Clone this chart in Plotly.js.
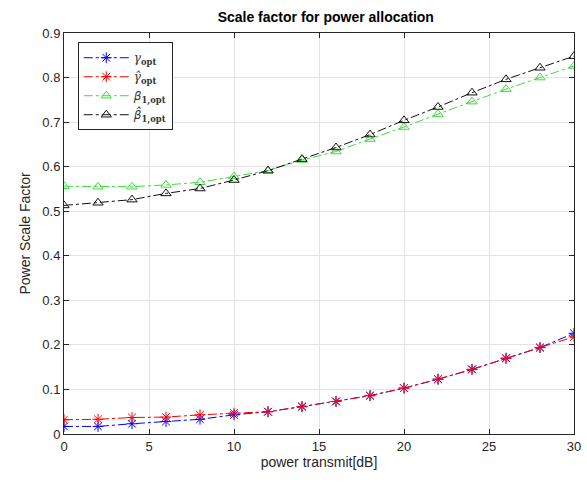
<!DOCTYPE html>
<html><head><meta charset="utf-8">
<script src="https://cdn.plot.ly/plotly-3.0.1.min.js"></script>
<style>html,body{margin:0;padding:0;background:#fff}#plot{width:587px;height:485px}</style>
</head><body><div id="plot"></div>
<script>
const xPower = [0,2,4,6,8,10,12,14,16,18,20,22,24,26,28,30];
const gammaOpt    = [0.017,0.017,0.023,0.028,0.033,0.043,0.050,0.0615,0.073,0.086,0.103,0.123,0.145,0.170,0.194,0.226];
const gammaHatOpt = [0.032,0.033,0.037,0.038,0.043,0.047,0.050,0.0615,0.073,0.086,0.103,0.123,0.145,0.170,0.194,0.218];
const betaOpt     = [0.556,0.555,0.555,0.559,0.565,0.578,0.591,0.615,0.634,0.662,0.689,0.718,0.746,0.774,0.800,0.826];
const betaHatOpt  = [0.513,0.519,0.526,0.540,0.551,0.570,0.591,0.617,0.643,0.672,0.704,0.734,0.766,0.796,0.822,0.848];
const names = [
  '<i>γ</i><sub><b>opt</b></sub>',
  '<i>γ\u0302</i><sub><b>opt</b></sub>',
  '<span style="font-family:\'DejaVu Sans\'"><i>β</i></span><sub><b>1,opt</b></sub>',
  '<span style="font-family:\'DejaVu Sans\'"><i>β\u0302</i></span><sub><b>1,opt</b></sub>'
];

function tr(y, name, color, sym){
  return {x:xPower, y:y, name:name, type:'scatter', mode:'lines+markers',
    line:{color:color, width:1, dash:'dashdot'},
    marker:{symbol:sym, size:9, color:color, line:{color:color, width:1}}};
}
const data = [
  tr(gammaOpt, names[0], '#0000ff', 'asterisk-open'),
  tr(gammaHatOpt, names[1], '#ff0000', 'asterisk-open'),
  tr(betaOpt, names[2], '#3ddc3d', 'triangle-up-open'),
  tr(betaHatOpt, names[3], '#111111', 'triangle-up-open')
];
const ax = {showline:true, mirror:'ticks', linecolor:'#262626', linewidth:1,
  ticks:'inside', ticklen:5, tickcolor:'#262626', showgrid:true, gridcolor:'#e3e3e3',
  zeroline:false, tickfont:{family:'Liberation Sans, Arial, sans-serif', size:13, color:'#262626'}};
const layout = {
  width:587, height:485, margin:{l:64, r:13, t:33, b:51},
  paper_bgcolor:'#fff', plot_bgcolor:'#fff',
  title:{text:'<b>Scale factor for power allocation</b>', x:0.555, xanchor:'center', y:0.975, yanchor:'top',
    font:{family:'Liberation Sans, Arial, sans-serif', size:14, color:'#000'}},
  xaxis:Object.assign({}, ax, {range:[0,30], tickvals:[0,5,10,15,20,25,30],
    title:{text:'power transmit[dB]', standoff:4, font:{family:'Liberation Sans, Arial, sans-serif', size:14, color:'#262626'}}}),
  yaxis:Object.assign({}, ax, {range:[0,0.9], tickvals:[0,0.1,0.2,0.3,0.4,0.5,0.6,0.7,0.8,0.9],
    ticktext:['0','0.1','0.2','0.3','0.4','0.5','0.6','0.7','0.8','0.9'],
    title:{text:'Power Scale Factor', standoff:8, font:{family:'Liberation Sans, Arial, sans-serif', size:14, color:'#262626'}}}),
  showlegend:true,
  legend:{x:0.027, y:0.977, xanchor:'left', yanchor:'top', bgcolor:'#fff', bordercolor:'#262626', borderwidth:1,
    font:{family:'DejaVu Serif, serif', size:12, color:'#333'}, tracegroupgap:0, itemwidth:45}
};
Plotly.newPlot('plot', data, layout, {staticPlot:true, displayModeBar:false});
</script></body></html>
